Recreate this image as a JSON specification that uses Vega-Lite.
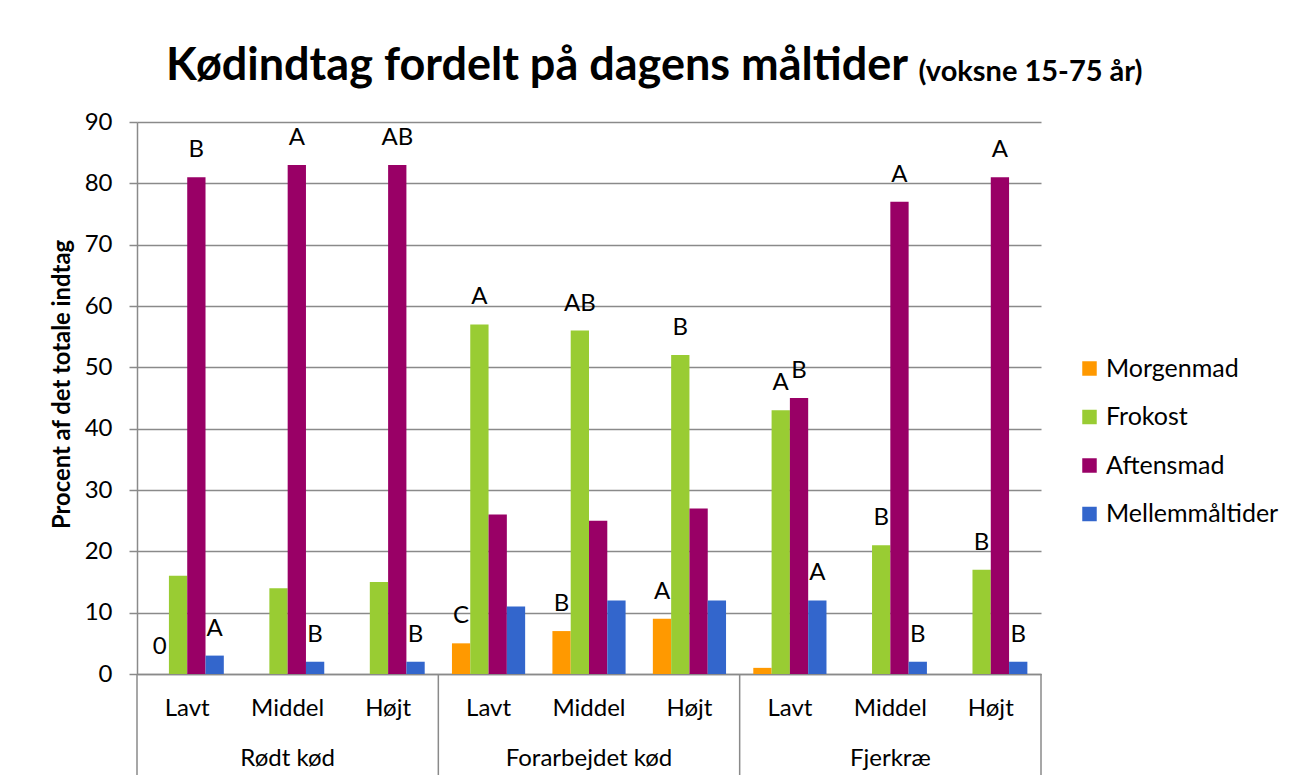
{
  "$schema": "https://vega.github.io/schema/vega-lite/v6.json",
  "autosize": {"type": "none"},
  "padding": {"left": 137, "top": 122, "right": 252, "bottom": 108},
  "width": 904,
  "height": 552,
  "background": "white",
  "config": {"font": "Lato", "view": {"stroke": null}},
  "title": {"text": "Kødindtag fordelt på dagens måltider", "anchor": "start", "frame": "group", "dx": 29, "dy": 68, "fontSize": 45, "fontWeight": "bold", "color": "black", "baseline": "alphabetic", "offset": 0},
  "data": {
    "values": [
      {"key": "Rødt kød|Lavt", "group": "Rødt kød", "level": "Lavt", "meal": "Morgenmad", "value": 0, "label": "0"},
      {"key": "Rødt kød|Lavt", "group": "Rødt kød", "level": "Lavt", "meal": "Frokost", "value": 16, "label": ""},
      {"key": "Rødt kød|Lavt", "group": "Rødt kød", "level": "Lavt", "meal": "Aftensmad", "value": 81, "label": "B"},
      {"key": "Rødt kød|Lavt", "group": "Rødt kød", "level": "Lavt", "meal": "Mellemmåltider", "value": 3, "label": "A"},
      {"key": "Rødt kød|Middel", "group": "Rødt kød", "level": "Middel", "meal": "Morgenmad", "value": 0, "label": ""},
      {"key": "Rødt kød|Middel", "group": "Rødt kød", "level": "Middel", "meal": "Frokost", "value": 14, "label": ""},
      {"key": "Rødt kød|Middel", "group": "Rødt kød", "level": "Middel", "meal": "Aftensmad", "value": 83, "label": "A"},
      {"key": "Rødt kød|Middel", "group": "Rødt kød", "level": "Middel", "meal": "Mellemmåltider", "value": 2, "label": "B"},
      {"key": "Rødt kød|Højt", "group": "Rødt kød", "level": "Højt", "meal": "Morgenmad", "value": 0, "label": ""},
      {"key": "Rødt kød|Højt", "group": "Rødt kød", "level": "Højt", "meal": "Frokost", "value": 15, "label": ""},
      {"key": "Rødt kød|Højt", "group": "Rødt kød", "level": "Højt", "meal": "Aftensmad", "value": 83, "label": "AB"},
      {"key": "Rødt kød|Højt", "group": "Rødt kød", "level": "Højt", "meal": "Mellemmåltider", "value": 2, "label": "B"},
      {"key": "Forarbejdet kød|Lavt", "group": "Forarbejdet kød", "level": "Lavt", "meal": "Morgenmad", "value": 5, "label": "C"},
      {"key": "Forarbejdet kød|Lavt", "group": "Forarbejdet kød", "level": "Lavt", "meal": "Frokost", "value": 57, "label": "A"},
      {"key": "Forarbejdet kød|Lavt", "group": "Forarbejdet kød", "level": "Lavt", "meal": "Aftensmad", "value": 26, "label": ""},
      {"key": "Forarbejdet kød|Lavt", "group": "Forarbejdet kød", "level": "Lavt", "meal": "Mellemmåltider", "value": 11, "label": ""},
      {"key": "Forarbejdet kød|Middel", "group": "Forarbejdet kød", "level": "Middel", "meal": "Morgenmad", "value": 7, "label": "B"},
      {"key": "Forarbejdet kød|Middel", "group": "Forarbejdet kød", "level": "Middel", "meal": "Frokost", "value": 56, "label": "AB"},
      {"key": "Forarbejdet kød|Middel", "group": "Forarbejdet kød", "level": "Middel", "meal": "Aftensmad", "value": 25, "label": ""},
      {"key": "Forarbejdet kød|Middel", "group": "Forarbejdet kød", "level": "Middel", "meal": "Mellemmåltider", "value": 12, "label": ""},
      {"key": "Forarbejdet kød|Højt", "group": "Forarbejdet kød", "level": "Højt", "meal": "Morgenmad", "value": 9, "label": "A"},
      {"key": "Forarbejdet kød|Højt", "group": "Forarbejdet kød", "level": "Højt", "meal": "Frokost", "value": 52, "label": "B"},
      {"key": "Forarbejdet kød|Højt", "group": "Forarbejdet kød", "level": "Højt", "meal": "Aftensmad", "value": 27, "label": ""},
      {"key": "Forarbejdet kød|Højt", "group": "Forarbejdet kød", "level": "Højt", "meal": "Mellemmåltider", "value": 12, "label": ""},
      {"key": "Fjerkræ|Lavt", "group": "Fjerkræ", "level": "Lavt", "meal": "Morgenmad", "value": 1, "label": ""},
      {"key": "Fjerkræ|Lavt", "group": "Fjerkræ", "level": "Lavt", "meal": "Frokost", "value": 43, "label": "A"},
      {"key": "Fjerkræ|Lavt", "group": "Fjerkræ", "level": "Lavt", "meal": "Aftensmad", "value": 45, "label": "B"},
      {"key": "Fjerkræ|Lavt", "group": "Fjerkræ", "level": "Lavt", "meal": "Mellemmåltider", "value": 12, "label": "A"},
      {"key": "Fjerkræ|Middel", "group": "Fjerkræ", "level": "Middel", "meal": "Morgenmad", "value": 0, "label": ""},
      {"key": "Fjerkræ|Middel", "group": "Fjerkræ", "level": "Middel", "meal": "Frokost", "value": 21, "label": "B"},
      {"key": "Fjerkræ|Middel", "group": "Fjerkræ", "level": "Middel", "meal": "Aftensmad", "value": 77, "label": "A"},
      {"key": "Fjerkræ|Middel", "group": "Fjerkræ", "level": "Middel", "meal": "Mellemmåltider", "value": 2, "label": "B"},
      {"key": "Fjerkræ|Højt", "group": "Fjerkræ", "level": "Højt", "meal": "Morgenmad", "value": 0, "label": ""},
      {"key": "Fjerkræ|Højt", "group": "Fjerkræ", "level": "Højt", "meal": "Frokost", "value": 17, "label": "B"},
      {"key": "Fjerkræ|Højt", "group": "Fjerkræ", "level": "Højt", "meal": "Aftensmad", "value": 81, "label": "A"},
      {"key": "Fjerkræ|Højt", "group": "Fjerkræ", "level": "Højt", "meal": "Mellemmåltider", "value": 2, "label": "B"}
    ]
  },
  "encoding": {
    "y": {
      "field": "value", "type": "quantitative",
      "scale": {"domain": [0, 90], "nice": false},
      "axis": {"title": "Procent af det totale indtag", "titleFontSize": 23.8, "titleFontWeight": "bold", "titleColor": "black", "titleBaseline": "middle", "titleX": -75, "titleY": 262, "values": [0, 10, 20, 30, 40, 50, 60, 70, 80, 90], "labelFontSize": 24, "labelColor": "black", "labelPadding": 17, "tickSize": 8, "tickColor": "#8a8a8a", "tickWidth": 1.5, "domainColor": "#8a8a8a", "domainWidth": 1.5, "gridColor": "#8a8a8a", "gridWidth": 1.5}
    }
  },
  "resolve": {"axis": {"x": "independent"}},
  "layer": [
    {
      "mark": {"type": "bar"},
      "encoding": {
        "x": {
          "field": "key", "type": "nominal",
          "scale": {"domain": ["Rødt kød|Lavt", "Rødt kød|Middel", "Rødt kød|Højt", "Forarbejdet kød|Lavt", "Forarbejdet kød|Middel", "Forarbejdet kød|Højt", "Fjerkræ|Lavt", "Fjerkræ|Middel", "Fjerkræ|Højt"], "paddingInner": 0, "paddingOuter": 0},
          "axis": {"title": null, "orient": "bottom", "labelExpr": "split(datum.value, '|')[1]", "labelAngle": 0, "labelFontSize": 24, "labelColor": "black", "labelPadding": 22, "ticks": false, "domainColor": "#8a8a8a", "domainWidth": 1.5, "grid": false}
        },
        "xOffset": {"field": "meal", "type": "nominal", "scale": {"domain": ["Morgenmad", "Frokost", "Aftensmad", "Mellemmåltider"], "paddingInner": 0, "paddingOuter": 0.745}},
        "color": {
          "field": "meal", "type": "nominal",
          "scale": {"domain": ["Morgenmad", "Frokost", "Aftensmad", "Mellemmåltider"], "range": ["#FF9900", "#99CC33", "#990066", "#3366CC"]},
          "legend": {"orient": "none", "legendX": 940, "legendY": 234, "title": null, "symbolType": "square", "symbolSize": 210, "symbolStrokeWidth": 0, "labelFontSize": 25, "labelLimit": 0, "labelColor": "black", "rowPadding": 22.5, "labelOffset": 4}
        }
      }
    },
    {
      "mark": {"type": "text", "fontSize": 24, "baseline": "middle", "dy": -27, "color": "black"},
      "encoding": {
        "x": {"field": "key", "type": "nominal", "axis": null},
        "xOffset": {"field": "meal", "type": "nominal", "scale": {"domain": ["Morgenmad", "Frokost", "Aftensmad", "Mellemmåltider"], "paddingInner": 0, "paddingOuter": 0.745}},
        "text": {"field": "label"}
      }
    },
    {
      "transform": [{"filter": "datum.meal === 'Frokost' && datum.level === 'Lavt'"}],
      "mark": {"type": "rule", "color": "#8a8a8a", "strokeWidth": 1.5},
      "encoding": {
        "x": {"field": "key", "type": "nominal", "bandPosition": 0, "axis": null},
        "y": {"datum": 0},
        "y2": {"datum": -16.47}
      }
    },
    {
      "transform": [{"filter": "datum.meal === 'Frokost' && datum.key === 'Fjerkræ|Højt'"}],
      "mark": {"type": "rule", "color": "#8a8a8a", "strokeWidth": 1.5},
      "encoding": {
        "x": {"field": "key", "type": "nominal", "bandPosition": 1, "axis": null},
        "y": {"datum": 0},
        "y2": {"datum": -16.47}
      }
    },
    {
      "transform": [{"filter": "datum.meal === 'Frokost' && datum.level === 'Middel'"}],
      "mark": {"type": "text", "fontSize": 24, "baseline": "middle", "color": "black"},
      "encoding": {
        "x": {"field": "key", "type": "nominal", "axis": {"orient": "top", "title": "(voksne 15-75 år)", "titleFontSize": 29, "titleFontWeight": "bold", "titleColor": "black", "titleAlign": "left", "titleBaseline": "alphabetic", "titleX": 781, "titleY": -42, "labels": false, "ticks": false, "domain": false, "grid": false}},
        "y": {"datum": -13.9},
        "text": {"field": "group"}
      }
    }
  ]
}
